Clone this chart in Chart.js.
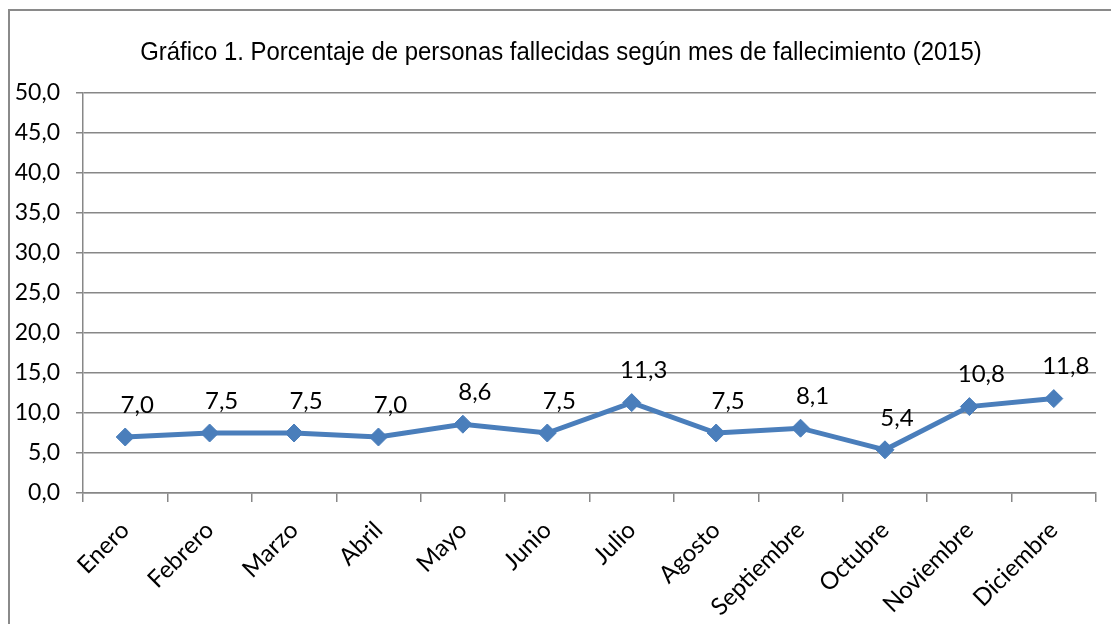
<!DOCTYPE html>
<html>
<head>
<meta charset="utf-8">
<script src="https://cdn.jsdelivr.net/npm/chart.js@4.4.1/dist/chart.umd.min.js"></script>
<style>
html, body { margin: 0; padding: 0; background: #fff; overflow: hidden; }
#marco { position: absolute; left: 8px; top: 9px; width: 1200px; height: 700px; border: 2px solid #8a8a8a; }
#wrap { position: absolute; left: 0; top: 0; width: 1111px; height: 624px; }
#titulo { position: absolute; left: 0; top: 36px; width: 1122px; text-align: center;
          font: 26px/30px 'Liberation Sans Narrow', 'Liberation Sans', sans-serif; color: #000;
          transform: scaleX(0.92); transform-origin: 561px 0; }
</style>
</head>
<body>
<div id="marco"></div>
<div id="wrap"><canvas id="grafico" width="1111" height="624"></canvas></div>
<div id="titulo"></div>
<script>
const titulo = "Gráfico 1. Porcentaje de personas fallecidas según mes de fallecimiento (2015)";
const meses = ["Enero", "Febrero", "Marzo", "Abril", "Mayo", "Junio", "Julio",
               "Agosto", "Septiembre", "Octubre", "Noviembre", "Diciembre"];
const porcentajes = [7.0, 7.5, 7.5, 7.0, 8.6, 7.5, 11.3, 7.5, 8.1, 5.4, 10.8, 11.8];
const ejeYMin = 0;
const ejeYMax = 50;
const ejeYPaso = 5;

const AZUL = "#4A7EBB";
const GRIS = "#878787";
const FUENTE = "Lato, 'Open Sans', sans-serif";

document.getElementById("titulo").textContent = titulo;

function formato(v) {
    return v.toFixed(1).replace(".", ",");
}

// etiquetas de valor sobre cada punto (como en Excel)
const etiquetasValores = {
    id: "etiquetasValores",
    afterDatasetsDraw(chart) {
        const ctx = chart.ctx;
        const meta = chart.getDatasetMeta(0);
        ctx.save();
        ctx.font = "24px " + FUENTE;
        ctx.fillStyle = "#000";
        ctx.textAlign = "center";
        ctx.textBaseline = "middle";
        meta.data.forEach((p, i) => {
            ctx.fillText(formato(porcentajes[i]), p.x + 12, p.y - 32);
        });
        ctx.restore();
    }
};

new Chart(document.getElementById("grafico").getContext("2d"), {
    type: "line",
    data: {
        labels: meses,
        datasets: [{
            data: porcentajes,
            borderColor: AZUL,
            borderWidth: 5,
            backgroundColor: AZUL,
            pointStyle: "rectRot",
            pointRadius: 9,
            pointBackgroundColor: AZUL,
            pointBorderColor: AZUL,
            pointBorderWidth: 1,
            tension: 0,
            fill: false
        }]
    },
    options: {
        responsive: false,
        animation: false,
        layout: { padding: { left: 0, right: 15, top: 93, bottom: 0 } },
        plugins: {
            legend: { display: false },
            tooltip: { enabled: false },
            title: { display: false }
        },
        scales: {
            x: {
                offset: true,
                grid: { offset: true, drawOnChartArea: false, drawTicks: true, tickLength: 9, color: GRIS, lineWidth: 1.5 },
                border: { color: GRIS, width: 1.5 },
                ticks: {
                    minRotation: 45,
                    maxRotation: 45,
                    autoSkip: false,
                    padding: 14,
                    color: "#000",
                    font: { family: FUENTE, size: 24 }
                },
                afterFit(s) { s.height = 131; }
            },
            y: {
                min: ejeYMin,
                max: ejeYMax,
                grid: { color: GRIS, lineWidth: 1.5, tickLength: 7 },
                border: { color: GRIS, width: 1.5 },
                ticks: {
                    stepSize: ejeYPaso,
                    padding: 16,
                    color: "#000",
                    font: { family: FUENTE, size: 23 },
                    callback: v => formato(v)
                },
                afterFit(s) { s.width = 83; }
            }
        }
    },
    plugins: [etiquetasValores]
});
</script>
</body>
</html>
